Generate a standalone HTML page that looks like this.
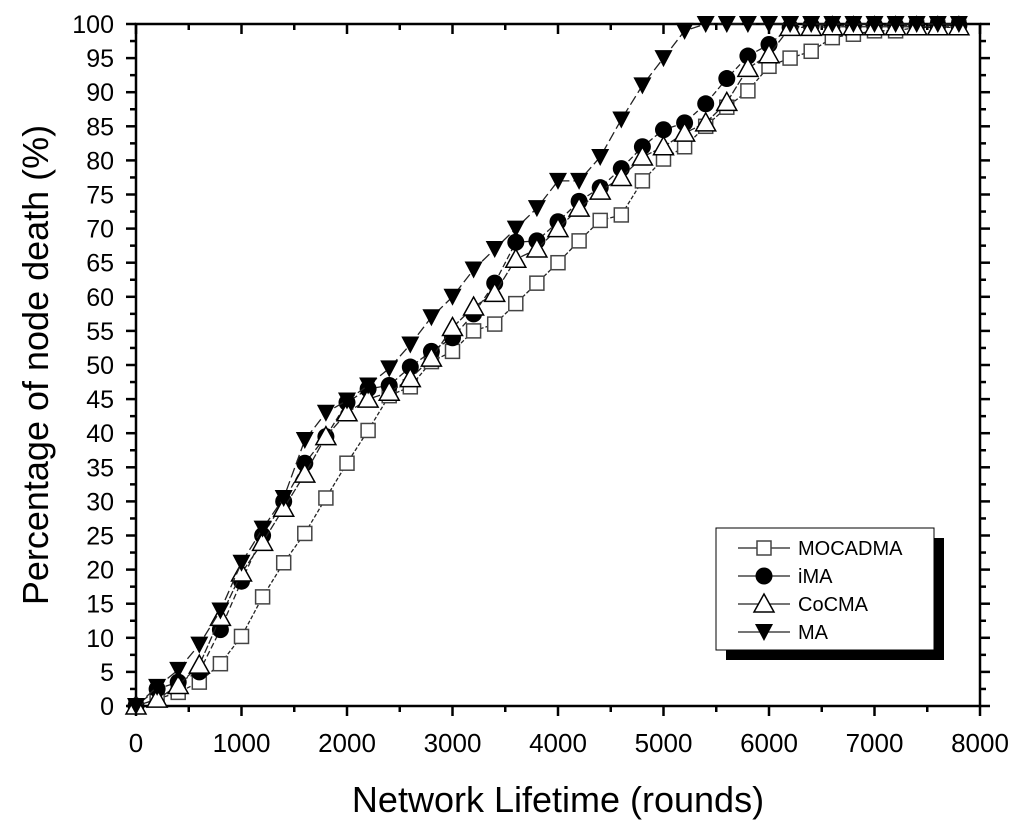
<!DOCTYPE html>
<html><head><meta charset="utf-8"><style>body{margin:0;background:#fff}svg{display:block;font-family:"Liberation Sans",Arial,sans-serif}</style></head>
<body>
<svg id="chart" width="1024" height="832"></svg>
<script>
const xValues=[0,200,400,600,800,1000,1200,1400,1600,1800,2000,2200,2400,2600,2800,3000,3200,3400,3600,3800,4000,4200,4400,4600,4800,5000,5200,5400,5600,5800,6000,6200,6400,6600,6800,7000,7200,7400,7600,7800];
const mocadma=[0,1,2,3.5,6.2,10.2,16,21,25.3,30.5,35.6,40.4,45.5,46.8,50.5,52,55,56,59,62,65,68.2,71.2,72,77,80.2,82,85,87.8,90.2,93.8,95,96,98,98.5,99,99,99.5,99.5,99.5];
const ima=[0,2.5,3.5,5,11.2,18.3,25,30,35.6,39.5,44.5,46.5,47,49.7,52,54,57.5,62,68,68.2,71,74,76,78.8,82,84.5,85.5,88.3,92,95.3,97,99.5,99.8,99.8,99.8,99.8,99.8,99.8,99.8,99.8];
const cocma=[0,1,3,6,13,19.5,24,29,34,39.5,43,45,46,48,51,55.5,58.5,60.5,65.5,67,70,73,75.5,77.5,80.5,82,84,85.5,88.5,93.5,95.5,99.5,99.5,99.6,99.6,99.6,99.6,99.6,99.6,99.6];
const ma=[0,2.8,5.3,9,14,21,26,30.5,39,43,44.8,47,49.5,53,57,60,64,67,70,73,77,77,80.5,86,91,95,99,100,100,100,100,100,100,100,100,100,100,100,100,100];
const xTicks=[0,1000,2000,3000,4000,5000,6000,7000,8000];
const yTicks=[0,5,10,15,20,25,30,35,40,45,50,55,60,65,70,75,80,85,90,95,100];
const seriesNames=["MOCADMA","iMA","CoCMA","MA"];
const X0=136,X1=980,Y0=706,Y1=24;
const sx=v=>X0+(v/8000)*(X1-X0), sy=v=>Y0-(v/100)*(Y0-Y1);
const svg=document.getElementById('chart');const NS='http://www.w3.org/2000/svg';
function mk(t,a,p){const e=document.createElementNS(NS,t);for(const k in a)e.setAttribute(k,a[k]);(p||svg).appendChild(e);return e;}
const frame=mk('rect',{x:X0,y:Y1,width:X1-X0,height:Y0-Y1,fill:'none',stroke:'#000','stroke-width':2.5});


const xg=mk('g',{});


for(let v=0;v<=8000;v+=500){const maj=v%1000===0;const x=sx(v);const L=maj?10:6;
mk('line',{x1:x,y1:Y0,x2:x,y2:Y0+L,stroke:'#000','stroke-width':2.5},xg);
mk('line',{x1:x,y1:Y1,x2:x,y2:Y1+L,stroke:'#000','stroke-width':2.5},xg);}
xTicks.forEach(v=>{const t=mk('text',{x:sx(v),y:752,'text-anchor':'middle','font-size':26},xg);t.textContent=v;

});
const yg=mk('g',{});


for(let v=0;v<=100;v+=2.5){const maj=v%5===0;const y=sy(v);const L=maj?10:6;
mk('line',{x1:X0,y1:y,x2:X0-L,y2:y,stroke:'#000','stroke-width':2.5},yg);
mk('line',{x1:X1,y1:y,x2:X1+L,y2:y,stroke:'#000','stroke-width':2.5},yg);}
yTicks.forEach(v=>{const t=mk('text',{x:114,y:sy(v)+9,'text-anchor':'end','font-size':25},yg);t.textContent=v;

});
const xt=mk('text',{x:558,y:812,'text-anchor':'middle','font-size':36});xt.textContent='Network Lifetime (rounds)';


const yt=mk('text',{x:0,y:0,'text-anchor':'middle','font-size':36,transform:'translate(48,365) rotate(-90)'});yt.textContent='Percentage of node death (%)';


function marker(kind,x,y,g){
 if(kind==='sq')return mk('rect',{x:x-7,y:y-7,width:14,height:14,fill:'#fff',stroke:'#444','stroke-width':1.5},g);
 if(kind==='ci')return mk('circle',{cx:x,cy:y,r:8.5,fill:'#000'},g);
 if(kind==='tu')return mk('path',{d:`M${x} ${y-10}L${x+10} ${y+8}L${x-10} ${y+8}Z`,fill:'#fff',stroke:'#000','stroke-width':1.5},g);
 return mk('path',{d:`M${x-9} ${y-8}L${x+9} ${y-8}L${x} ${y+9}Z`,fill:'#000'},g);
}
const series=[[mocadma,'sq','4 2'],[ima,'ci','6 3'],[cocma,'tu','8 2'],[ma,'td','10 4']];
series.forEach((s,i)=>{const g=mk('g',{});


mk('polyline',{points:s[0].map((v,j)=>sx(xValues[j])+','+sy(v)).join(' '),fill:'none',stroke:'#222','stroke-width':1.3,'stroke-dasharray':s[2]},g);
s[0].forEach((v,j)=>{const m=marker(s[1],sx(xValues[j]),sy(v),g);

});});
const lg=mk('g',{});


mk('rect',{x:726,y:538,width:218,height:122,fill:'#000'},lg);
mk('rect',{x:716,y:528,width:218,height:122,fill:'#fff',stroke:'#000','stroke-width':1},lg);
const kinds=['sq','ci','tu','td'];
seriesNames.forEach((n,i)=>{const y=548+i*28;
mk('line',{x1:738,y1:y,x2:790,y2:y,stroke:'#222','stroke-width':1.3},lg);
marker(kinds[i],764,y,lg);
const t=mk('text',{x:798,y:y+7,'font-size':20},lg);t.textContent=n;

});
</script>
</body></html>
